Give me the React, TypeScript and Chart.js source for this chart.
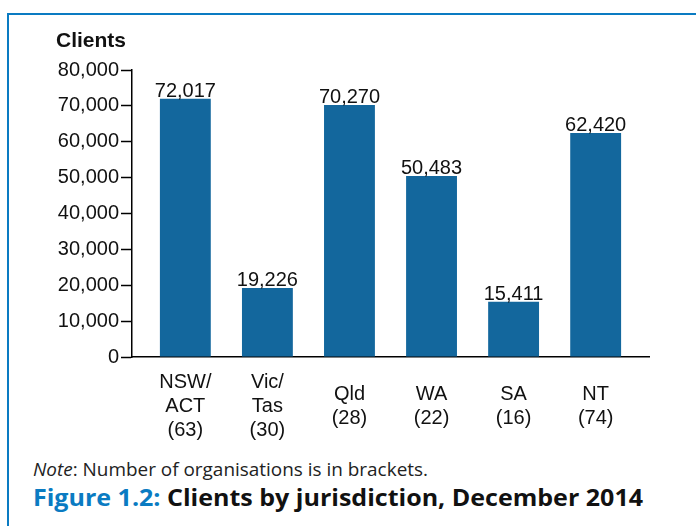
import React, { useEffect, useLayoutEffect, useRef } from "react";
import { Chart, registerables } from "chart.js";

Chart.register(...registerables);

const categories: string[][] = [
  ["NSW/", "ACT", "(63)"],
  ["Vic/", "Tas", "(30)"],
  ["Qld", "(28)"],
  ["WA", "(22)"],
  ["SA", "(16)"],
  ["NT", "(74)"],
];
const clients: number[] = [72017, 19226, 70270, 50483, 15411, 62420];
const yTickValues: number[] = [0, 10000, 20000, 30000, 40000, 50000, 60000, 70000, 80000];

const BAR = "#13679d";
const AXIS_FONT = "'Liberation Sans', Arial, sans-serif";
const NOTE_FONT = "'Open Sans', 'Noto Sans', sans-serif";

const valueLabels = {
  id: "valueLabels",
  afterDatasetsDraw(chart: any) {
    const ctx = chart.ctx;
    const meta = chart.getDatasetMeta(0);
    ctx.save();
    ctx.font = `20px ${AXIS_FONT}`;
    ctx.fillStyle = "#111";
    ctx.textAlign = "center";
    ctx.textBaseline = "alphabetic";
    meta.data.forEach((el: any, i: number) => {
      ctx.fillText(clients[i].toLocaleString("en-US"), el.x, el.y - 2);
    });
    ctx.restore();
  },
};

function ClientsChart() {
  const ref = useRef<HTMLCanvasElement | null>(null);
  useEffect(() => {
    if (!ref.current) return;
    const chart = new Chart(ref.current, {
      type: "bar",
      data: {
        datasets: [
          {
            data: clients.map((v, i) => ({ x: i, y: v })),
            backgroundColor: BAR,
            borderWidth: 0,
            categoryPercentage: 0.62,
            barPercentage: 1,
          },
        ],
      },
      options: {
        animation: false,
        responsive: false,
        maintainAspectRatio: false,
        layout: { padding: { left: 0, top: 70, right: 47, bottom: 0 } },
        plugins: { legend: { display: false }, tooltip: { enabled: false } },
        scales: {
          x: {
            type: "linear",
            offset: false,
            min: -0.65,
            max: categories.length - 1 + 0.65,
            afterFit: (s: any) => {
              s.height = 93;
            },
            grid: { display: false },
            border: { display: true, color: "#000", width: 1.5 },
            ticks: {
              stepSize: 1,
              includeBounds: false,
              maxRotation: 0,
              minRotation: 0,
              autoSkip: false,
              crossAlign: "center",
              padding: 17,
              color: "#111",
              font: { family: AXIS_FONT, size: 20, lineHeight: 1.2 },
              callback: (v: any) => {
                const i = Number(v);
                return Number.isInteger(i) && categories[i] ? categories[i] : "";
              },
            },
          },
          y: {
            min: 0,
            max: 80000,
            afterFit: (s: any) => {
              s.width = 132;
            },
            afterBuildTicks: (s: any) => {
              s.ticks = yTickValues.map((v) => ({ value: v }));
            },
            grid: {
              display: true,
              drawOnChartArea: false,
              drawTicks: true,
              tickLength: 11,
              tickWidth: 1.5,
              color: "#000",
            },
            border: { display: true, color: "#000", width: 1.5 },
            ticks: {
              padding: 2,
              color: "#111",
              font: { family: AXIS_FONT, size: 20 },
              callback: (v: any) => Number(v).toLocaleString("en-US"),
            },
          },
        },
      },
      plugins: [valueLabels],
    } as any);
    return () => chart.destroy();
  }, []);
  return <canvas ref={ref} width={696} height={450} style={{ position: "absolute", left: 0, top: 0 }} />;
}

function FitText(props: { left: number; top: number; width: number; style: React.CSSProperties; children: React.ReactNode }) {
  const ref = useRef<HTMLDivElement | null>(null);
  useLayoutEffect(() => {
    const el = ref.current;
    if (!el) return;
    el.style.transform = "none";
    const w = el.getBoundingClientRect().width;
    if (w > 0) el.style.transform = `scaleX(${props.width / w})`;
  });
  return (
    <div
      ref={ref}
      style={{
        position: "absolute",
        left: props.left,
        top: props.top,
        whiteSpace: "nowrap",
        transformOrigin: "0 0",
        display: "inline-block",
        ...props.style,
      }}
    >
      {props.children}
    </div>
  );
}

export default function App() {
  return (
    <div style={{ position: "absolute", left: 0, top: 0, width: 696, height: 526, overflow: "hidden", background: "#fff" }}>
      <div
        style={{
          position: "absolute",
          left: 7,
          top: 13,
          width: 720,
          height: 600,
          borderLeft: "2px solid #0a7bc2",
          borderTop: "2px solid #0a7bc2",
        }}
      />
      <ClientsChart />
      <div
        style={{
          position: "absolute",
          left: 56,
          top: 28,
          fontFamily: AXIS_FONT,
          fontWeight: "bold",
          fontSize: 21,
          lineHeight: "24px",
          color: "#111",
        }}
      >
        Clients
      </div>
      <FitText left={33} top={460} width={395} style={{ fontFamily: NOTE_FONT, fontSize: 19, lineHeight: "19px", color: "#222" }}>
        <i>Note</i>: Number of organisations is in brackets.
      </FitText>
      <FitText
        left={33}
        top={485}
        width={610}
        style={{ fontFamily: NOTE_FONT, fontWeight: "bold", fontSize: 24, lineHeight: "24px", color: "#111" }}
      >
        <span style={{ color: "#0a7bc2" }}>Figure 1.2:</span> Clients by jurisdiction, December 2014
      </FitText>
    </div>
  );
}
